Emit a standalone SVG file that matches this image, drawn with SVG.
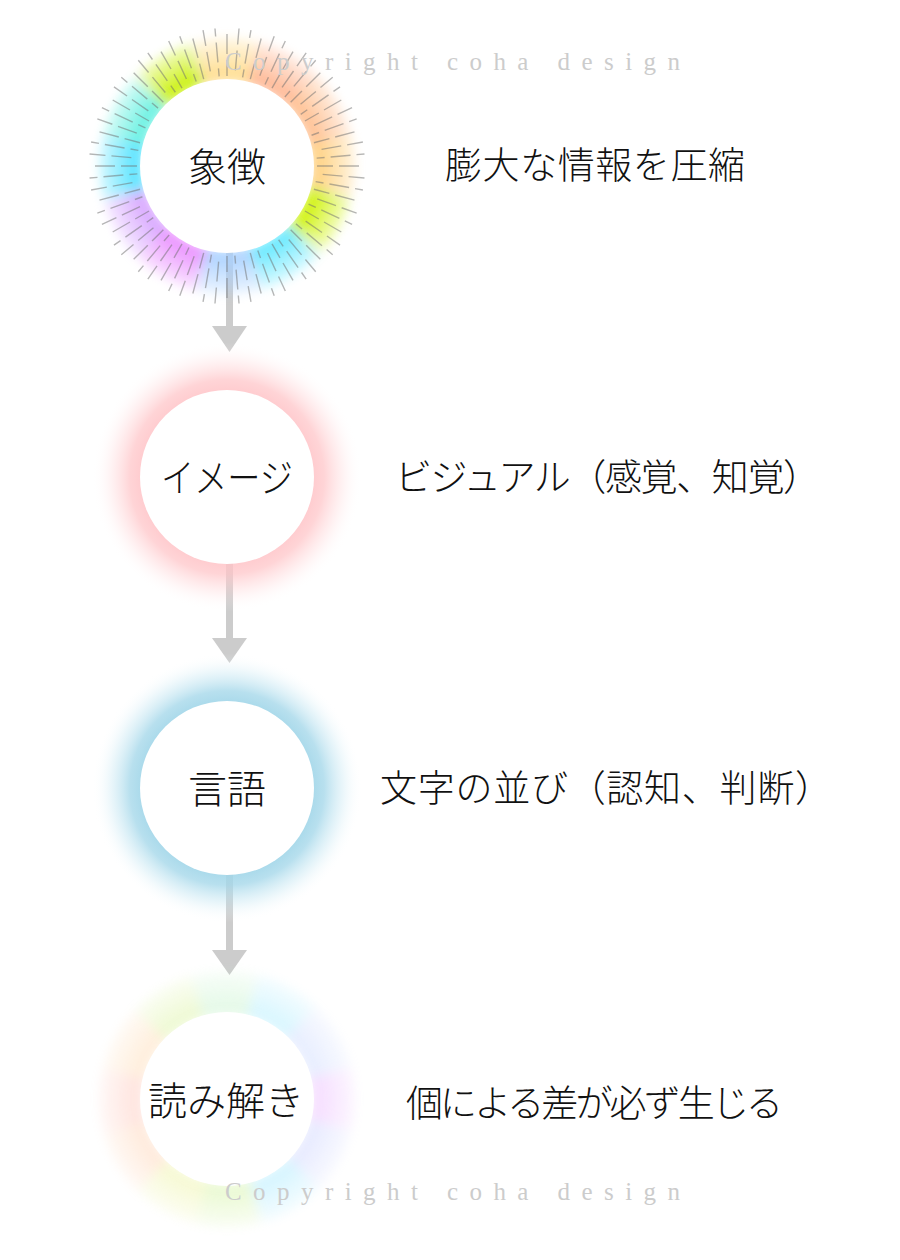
<svg xmlns="http://www.w3.org/2000/svg" xmlns:xlink="http://www.w3.org/1999/xlink" width="900" height="1260" viewBox="0 0 900 1260">
<style>
.seg{fill:none;stroke-width:46;stroke-dasharray:60 640}
.tick{stroke:#707070;stroke-width:1.4;opacity:0.5}
.core{fill:#ffffff}
.node-label{font-family:"Noto Sans CJK JP","Noto Sans CJK SC",sans-serif;font-weight:300;font-size:39px;fill:#111;text-anchor:middle;dominant-baseline:central}
.desc{font-family:"Noto Sans CJK JP","Noto Sans CJK SC",sans-serif;font-weight:300;font-size:37px;fill:#111;dominant-baseline:central}
.arrow{fill:#cccccc}
.wm{font-family:"Liberation Serif",serif;font-size:25px;fill:#cccccc}
</style>
<defs>
<filter id="blur" x="-30%" y="-30%" width="160%" height="160%"><feGaussianBlur stdDeviation="6"/></filter>
<radialGradient id="fadeG">
<stop offset="0" stop-color="#fff"/>
<stop offset="0.62" stop-color="#fff"/>
<stop offset="0.8" stop-color="#888"/>
<stop offset="1" stop-color="#000"/>
</radialGradient>
<mask id="fade1" maskUnits="userSpaceOnUse" x="0" y="0" width="900" height="1260"><circle cx="227" cy="166" r="140" fill="url(#fadeG)"/></mask>
<mask id="fade4" maskUnits="userSpaceOnUse" x="0" y="0" width="900" height="1260"><circle cx="227" cy="1099" r="140" fill="url(#fadeG)"/></mask>
<radialGradient id="pinkG">
<stop offset="0.6" stop-color="#ffc2c6" stop-opacity="0.9"/>
<stop offset="0.72" stop-color="#ffc6c9" stop-opacity="0.75"/>
<stop offset="0.86" stop-color="#ffd6d8" stop-opacity="0.3"/>
<stop offset="1" stop-color="#ffffff" stop-opacity="0"/>
</radialGradient>
<radialGradient id="blueG">
<stop offset="0.6" stop-color="#9fd5e8" stop-opacity="0.95"/>
<stop offset="0.72" stop-color="#a6d8ea" stop-opacity="0.8"/>
<stop offset="0.86" stop-color="#c4e6f2" stop-opacity="0.35"/>
<stop offset="1" stop-color="#ffffff" stop-opacity="0"/>
</radialGradient>
<line id="tA" class="tick" x1="317" y1="166" x2="365" y2="166" stroke-dasharray="16 6 20 60"/>
<line id="tB" class="tick" x1="317" y1="166" x2="365" y2="166" stroke-dasharray="0 6 20 6 16 60"/>
<line id="tC" class="tick" x1="317" y1="166" x2="365" y2="166" stroke-dasharray="8 6 20 6 8 60"/>
</defs>
<rect width="900" height="1260" fill="#ffffff"/>

<g id="connectors">
<g id="arrow1"><rect class="arrow" x="226" y="250" width="7" height="78"/><polygon class="arrow" points="212,326 247,326 229.5,352"/></g>
<g id="arrow2"><rect class="arrow" x="226" y="560" width="7" height="80"/><polygon class="arrow" points="212,638 247,638 229.5,663"/></g>
<g id="arrow3"><rect class="arrow" x="226" y="872" width="7" height="80"/><polygon class="arrow" points="212,950 247,950 229.5,975"/></g>
</g>

<g id="node-symbol">
<g mask="url(#fade1)"><g filter="url(#blur)">
<circle class="seg" cx="227" cy="166" r="108" stroke="#ffcf7a" transform="rotate(-16 227 166)"/>
<circle class="seg" cx="227" cy="166" r="108" stroke="#cdf200" transform="rotate(14 227 166)"/>
<circle class="seg" cx="227" cy="166" r="108" stroke="#5ee8ff" transform="rotate(44 227 166)"/>
<circle class="seg" cx="227" cy="166" r="108" stroke="#a8d0ff" transform="rotate(74 227 166)"/>
<circle class="seg" cx="227" cy="166" r="108" stroke="#e98cff" transform="rotate(104 227 166)"/>
<circle class="seg" cx="227" cy="166" r="108" stroke="#d6a2ff" transform="rotate(134 227 166)"/>
<circle class="seg" cx="227" cy="166" r="108" stroke="#4fe2ff" transform="rotate(164 227 166)"/>
<circle class="seg" cx="227" cy="166" r="108" stroke="#5ef0e0" transform="rotate(194 227 166)"/>
<circle class="seg" cx="227" cy="166" r="108" stroke="#c8f000" transform="rotate(224 227 166)"/>
<circle class="seg" cx="227" cy="166" r="108" stroke="#ffdc8a" transform="rotate(254 227 166)"/>
<circle class="seg" cx="227" cy="166" r="108" stroke="#ffb48e" transform="rotate(284 227 166)"/>
<circle class="seg" cx="227" cy="166" r="108" stroke="#ffbc8a" transform="rotate(314 227 166)"/>
</g></g>
<g id="ticks">
<use xlink:href="#tA" transform="rotate(0 227 166)"/><use xlink:href="#tB" transform="rotate(5 227 166)"/><use xlink:href="#tC" transform="rotate(10 227 166)"/>
<use xlink:href="#tA" transform="rotate(15 227 166)"/><use xlink:href="#tB" transform="rotate(20 227 166)"/><use xlink:href="#tC" transform="rotate(25 227 166)"/>
<use xlink:href="#tA" transform="rotate(30 227 166)"/><use xlink:href="#tB" transform="rotate(35 227 166)"/><use xlink:href="#tC" transform="rotate(40 227 166)"/>
<use xlink:href="#tA" transform="rotate(45 227 166)"/><use xlink:href="#tB" transform="rotate(50 227 166)"/><use xlink:href="#tC" transform="rotate(55 227 166)"/>
<use xlink:href="#tA" transform="rotate(60 227 166)"/><use xlink:href="#tB" transform="rotate(65 227 166)"/><use xlink:href="#tC" transform="rotate(70 227 166)"/>
<use xlink:href="#tA" transform="rotate(75 227 166)"/><use xlink:href="#tB" transform="rotate(80 227 166)"/><use xlink:href="#tC" transform="rotate(85 227 166)"/>
<use xlink:href="#tA" transform="rotate(90 227 166)"/><use xlink:href="#tB" transform="rotate(95 227 166)"/><use xlink:href="#tC" transform="rotate(100 227 166)"/>
<use xlink:href="#tA" transform="rotate(105 227 166)"/><use xlink:href="#tB" transform="rotate(110 227 166)"/><use xlink:href="#tC" transform="rotate(115 227 166)"/>
<use xlink:href="#tA" transform="rotate(120 227 166)"/><use xlink:href="#tB" transform="rotate(125 227 166)"/><use xlink:href="#tC" transform="rotate(130 227 166)"/>
<use xlink:href="#tA" transform="rotate(135 227 166)"/><use xlink:href="#tB" transform="rotate(140 227 166)"/><use xlink:href="#tC" transform="rotate(145 227 166)"/>
<use xlink:href="#tA" transform="rotate(150 227 166)"/><use xlink:href="#tB" transform="rotate(155 227 166)"/><use xlink:href="#tC" transform="rotate(160 227 166)"/>
<use xlink:href="#tA" transform="rotate(165 227 166)"/><use xlink:href="#tB" transform="rotate(170 227 166)"/><use xlink:href="#tC" transform="rotate(175 227 166)"/>
<use xlink:href="#tA" transform="rotate(180 227 166)"/><use xlink:href="#tB" transform="rotate(185 227 166)"/><use xlink:href="#tC" transform="rotate(190 227 166)"/>
<use xlink:href="#tA" transform="rotate(195 227 166)"/><use xlink:href="#tB" transform="rotate(200 227 166)"/><use xlink:href="#tC" transform="rotate(205 227 166)"/>
<use xlink:href="#tA" transform="rotate(210 227 166)"/><use xlink:href="#tB" transform="rotate(215 227 166)"/><use xlink:href="#tC" transform="rotate(220 227 166)"/>
<use xlink:href="#tA" transform="rotate(225 227 166)"/><use xlink:href="#tB" transform="rotate(230 227 166)"/><use xlink:href="#tC" transform="rotate(235 227 166)"/>
<use xlink:href="#tA" transform="rotate(240 227 166)"/><use xlink:href="#tB" transform="rotate(245 227 166)"/><use xlink:href="#tC" transform="rotate(250 227 166)"/>
<use xlink:href="#tA" transform="rotate(255 227 166)"/><use xlink:href="#tB" transform="rotate(260 227 166)"/><use xlink:href="#tC" transform="rotate(265 227 166)"/>
<use xlink:href="#tA" transform="rotate(270 227 166)"/><use xlink:href="#tB" transform="rotate(275 227 166)"/><use xlink:href="#tC" transform="rotate(280 227 166)"/>
<use xlink:href="#tA" transform="rotate(285 227 166)"/><use xlink:href="#tB" transform="rotate(290 227 166)"/><use xlink:href="#tC" transform="rotate(295 227 166)"/>
<use xlink:href="#tA" transform="rotate(300 227 166)"/><use xlink:href="#tB" transform="rotate(305 227 166)"/><use xlink:href="#tC" transform="rotate(310 227 166)"/>
<use xlink:href="#tA" transform="rotate(315 227 166)"/><use xlink:href="#tB" transform="rotate(320 227 166)"/><use xlink:href="#tC" transform="rotate(325 227 166)"/>
<use xlink:href="#tA" transform="rotate(330 227 166)"/><use xlink:href="#tB" transform="rotate(335 227 166)"/><use xlink:href="#tC" transform="rotate(340 227 166)"/>
<use xlink:href="#tA" transform="rotate(345 227 166)"/><use xlink:href="#tB" transform="rotate(350 227 166)"/><use xlink:href="#tC" transform="rotate(355 227 166)"/>
</g>
<circle class="core" cx="227" cy="166" r="87"/>
<text class="node-label" x="227" y="164">象徴</text>
</g>

<g id="node-image">
<circle cx="227" cy="477" r="135" fill="url(#pinkG)"/>
<circle class="core" cx="227" cy="477" r="87"/>
<text class="node-label" x="227" y="475" textLength="132" lengthAdjust="spacingAndGlyphs">イメージ</text>
</g>

<g id="node-language">
<circle cx="227" cy="788" r="135" fill="url(#blueG)"/>
<circle class="core" cx="227" cy="788" r="87"/>
<text class="node-label" x="227" y="786">言語</text>
</g>

<g id="node-reading">
<g mask="url(#fade4)" opacity="0.4"><g filter="url(#blur)">
<circle class="seg" cx="227" cy="1099" r="108" stroke="#e6a8ff" transform="rotate(-16 227 1099)"/>
<circle class="seg" cx="227" cy="1099" r="108" stroke="#c0c8ff" transform="rotate(14 227 1099)"/>
<circle class="seg" cx="227" cy="1099" r="108" stroke="#90e4ff" transform="rotate(44 227 1099)"/>
<circle class="seg" cx="227" cy="1099" r="108" stroke="#c8f08a" transform="rotate(74 227 1099)"/>
<circle class="seg" cx="227" cy="1099" r="108" stroke="#e8f08a" transform="rotate(104 227 1099)"/>
<circle class="seg" cx="227" cy="1099" r="108" stroke="#ffc8a0" transform="rotate(134 227 1099)"/>
<circle class="seg" cx="227" cy="1099" r="108" stroke="#ffb8a8" transform="rotate(164 227 1099)"/>
<circle class="seg" cx="227" cy="1099" r="108" stroke="#ffd2a0" transform="rotate(194 227 1099)"/>
<circle class="seg" cx="227" cy="1099" r="108" stroke="#d2f08a" transform="rotate(224 227 1099)"/>
<circle class="seg" cx="227" cy="1099" r="108" stroke="#b8f0c0" transform="rotate(254 227 1099)"/>
<circle class="seg" cx="227" cy="1099" r="108" stroke="#98e8ff" transform="rotate(284 227 1099)"/>
<circle class="seg" cx="227" cy="1099" r="108" stroke="#c0d0ff" transform="rotate(314 227 1099)"/>
</g></g>
<circle class="core" cx="227" cy="1099" r="87"/>
<text class="node-label" x="226" y="1098">読み解き</text>
</g>

<g id="descriptions">
<text class="desc" x="445" y="163" textLength="300" lengthAdjust="spacing">膨大な情報を圧縮</text>
<text class="desc" x="395" y="475" textLength="425" lengthAdjust="spacing">ビジュアル（感覚、知覚）</text>
<text class="desc" x="380" y="786" textLength="452" lengthAdjust="spacing">文字の並び（認知、判断）</text>
<text class="desc" x="406" y="1101" textLength="377" lengthAdjust="spacing">個による差が必ず生じる</text>
</g>

<g id="watermarks">
<text class="wm" x="225" y="70" textLength="455" lengthAdjust="spacing">Copyright coha design</text>
<text class="wm" x="225" y="1200" textLength="455" lengthAdjust="spacing">Copyright coha design</text>
</g>
</svg>
